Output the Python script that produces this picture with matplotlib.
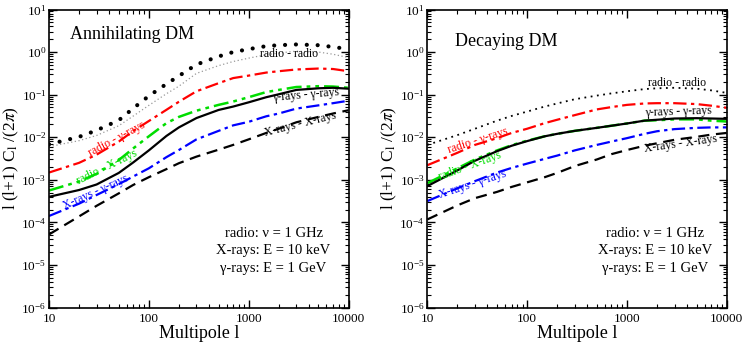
import numpy as np
import matplotlib
matplotlib.use("Agg")
from matplotlib import pyplot as plt
from matplotlib.ticker import LogLocator, NullFormatter, LogFormatterMathtext

plt.rcParams['font.family'] = ['Liberation Serif', 'DejaVu Serif']
plt.rcParams['mathtext.fontset'] = 'stix'

# multipoles
ell = [10, 20, 30, 50, 70, 100, 150, 200, 300, 500, 700, 1000, 1500, 2000, 3000, 5000, 7000, 10000]

# annihilating DM
ann_rr = [6.8e-3, 1.02e-2, 1.45e-2, 2.5e-2, 4.8e-2, 9.3e-2, 0.178, 0.275, 0.51, 0.79, 1.0, 1.17, 1.38, 1.45, 1.51, 1.45, 1.32, 1.17]
ann_rr_grey = [6.0e-3, 8.3e-3, 1.1e-2, 1.86e-2, 3.16e-2, 5.6e-2, 0.105, 0.158, 0.316, 0.48, 0.60, 0.72, 0.87, 0.95, 1.05, 1.0, 0.89, 0.74]
ann_rg = [1.48e-3, 2.5e-3, 3.9e-3, 7.9e-3, 1.41e-2, 2.4e-2, 4.4e-2, 6.8e-2, 0.12, 0.186, 0.245, 0.28, 0.33, 0.355, 0.39, 0.41, 0.40, 0.355]
ann_rx = [5.6e-4, 9.1e-4, 1.38e-3, 2.9e-3, 5.5e-3, 1.05e-2, 2.14e-2, 3.0e-2, 4.2e-2, 5.75e-2, 6.9e-2, 8.7e-2, 0.115, 0.129, 0.151, 0.158, 0.155, 0.145]
ann_gg = [3.98e-4, 5.75e-4, 7.76e-4, 1.45e-3, 2.57e-3, 4.9e-3, 1.07e-2, 1.7e-2, 2.82e-2, 4.37e-2, 5.25e-2, 6.6e-2, 8.7e-2, 0.102, 0.129, 0.141, 0.145, 0.138]
ann_xg = [1.41e-4, 2.75e-4, 4.4e-4, 7.9e-4, 1.2e-3, 1.86e-3, 3.4e-3, 5.0e-3, 8.9e-3, 1.41e-2, 1.9e-2, 2.3e-2, 3.1e-2, 3.6e-2, 4.7e-2, 5.6e-2, 6.3e-2, 7.2e-2]
ann_xx = [5.2e-5, 1.38e-4, 2.45e-4, 4.8e-4, 7.6e-4, 1.15e-3, 1.78e-3, 2.45e-3, 3.5e-3, 5.1e-3, 6.6e-3, 8.9e-3, 1.26e-2, 1.58e-2, 2.24e-2, 3.0e-2, 3.6e-2, 4.3e-2]

# decaying DM
dec_rr = [6.6e-3, 1.12e-2, 1.58e-2, 2.45e-2, 3.16e-2, 4.0e-2, 5.25e-2, 6.2e-2, 7.8e-2, 9.5e-2, 0.107, 0.12, 0.135, 0.141, 0.145, 0.138, 0.126, 0.11]
dec_rg = [2.2e-3, 4.3e-3, 6.6e-3, 9.5e-3, 1.26e-2, 1.58e-2, 2.14e-2, 2.57e-2, 3.3e-2, 4.5e-2, 5.1e-2, 5.75e-2, 6.2e-2, 6.3e-2, 6.3e-2, 6.0e-2, 5.5e-2, 4.9e-2]
dec_rx = [8.3e-4, 1.86e-3, 3.0e-3, 4.9e-3, 6.5e-3, 8.3e-3, 1.05e-2, 1.2e-2, 1.41e-2, 1.66e-2, 1.86e-2, 2.1e-2, 2.45e-2, 2.5e-2, 2.63e-2, 2.63e-2, 2.45e-2, 2.34e-2]
dec_gg = [7.1e-4, 1.66e-3, 2.8e-3, 4.7e-3, 6.3e-3, 8.1e-3, 1.05e-2, 1.2e-2, 1.41e-2, 1.66e-2, 1.86e-2, 2.1e-2, 2.45e-2, 2.57e-2, 2.75e-2, 2.8e-2, 2.75e-2, 2.7e-2]
dec_xg = [3.16e-4, 6.3e-4, 9.3e-4, 1.48e-3, 1.9e-3, 2.4e-3, 3.1e-3, 3.7e-3, 4.9e-3, 6.6e-3, 7.9e-3, 9.5e-3, 1.2e-2, 1.38e-2, 1.55e-2, 1.66e-2, 1.7e-2, 1.7e-2]
dec_xx = [1.17e-4, 2.5e-4, 3.7e-4, 5.2e-4, 6.8e-4, 8.7e-4, 1.15e-3, 1.45e-3, 2.1e-3, 3.0e-3, 4.0e-3, 5.0e-3, 6.3e-3, 7.2e-3, 8.7e-3, 1.02e-2, 1.15e-2, 1.26e-2]

xticks = [10, 100, 1000, 10000]
xticklabels = ['10', '100', '1000', '10000']
info = 'radio: \u03bd = 1 GHz\nX-rays: E = 10 keV\n\u03b3-rays: E = 1 GeV'

RED, GREEN, BLUE = '#ff0000', '#00dd00', '#0000ff'
ls_dashdot = (0, (6, 2, 1.5, 2))
ls_dashdotdot = (0, (6, 2, 1.5, 2, 1.5, 2))
ls_dash = (0, (5, 3))

fig = plt.figure(figsize=(7.44, 3.44), dpi=100)
axL = fig.add_axes([49 / 744, 1 - 307.5 / 344, 299.5 / 744, 298 / 344])
axR = fig.add_axes([427.3 / 744, 1 - 307.5 / 344, 299.4 / 744, 298 / 344])


def style_axes(ax):
    ax.set_xscale('log')
    ax.set_yscale('log')
    ax.set_xlim(10, 10000)
    ax.set_ylim(1e-6, 10)
    ax.set_xticks(xticks)
    ax.set_xticklabels(xticklabels)
    ax.xaxis.set_minor_locator(LogLocator(base=10, subs=np.arange(2, 10), numticks=20))
    ax.xaxis.set_minor_formatter(NullFormatter())
    ax.yaxis.set_major_locator(LogLocator(base=10, numticks=20))
    ax.yaxis.set_major_formatter(LogFormatterMathtext())
    ax.yaxis.set_minor_locator(LogLocator(base=10, subs=np.arange(2, 10), numticks=20))
    ax.yaxis.set_minor_formatter(NullFormatter())
    ax.tick_params(which='both', direction='in', top=True, right=True, labelsize=9.5)
    ax.tick_params(which='major', length=6, width=1)
    ax.tick_params(which='minor', length=3, width=0.8)
    ax.tick_params(axis='x', pad=4)
    ax.tick_params(axis='y', pad=2)
    for s in ax.spines.values():
        s.set_linewidth(1.2)
    ax.set_xlabel('Multipole l', fontsize=13, labelpad=0)
    ax.set_ylabel(r'l (l+1) C$_\mathrm{l}$ /(2$\pi$)', fontsize=12.5, labelpad=0)


# left panel
ax = axL
style_axes(ax)
ax.plot(ell, ann_rr_grey, color='#999999', lw=0.9, linestyle=(0, (1, 2)))
ax.plot(ell, ann_rr, color='black', lw=3, linestyle=(0, (0.01, 2.6)), dash_capstyle='round')
ax.plot(ell, ann_rg, color=RED, lw=1.6, linestyle=ls_dashdot)
ax.plot(ell, ann_rx, color=GREEN, lw=1.8, linestyle=ls_dashdotdot)
ax.plot(ell, ann_gg, color='black', lw=1.6)
ax.plot(ell, ann_xg, color=BLUE, lw=1.6, linestyle=ls_dashdot)
ax.plot(ell, ann_xx, color='black', lw=1.6, linestyle=ls_dash)

ax.text(0.07, 0.915, 'Annihilating DM', transform=ax.transAxes, fontsize=13, va='center', ha='left')
ax.text(0.8, 0.85, 'radio - radio', transform=ax.transAxes, fontsize=8.5, ha='center', va='center')
ax.text(0.858, 0.712, '\u03b3-rays - \u03b3-rays', transform=ax.transAxes, fontsize=8.5, ha='center', va='center', rotation=5)
ax.text(0.838, 0.615, 'X-rays - X-rays', transform=ax.transAxes, fontsize=8.5, ha='center', va='center', rotation=14)
ax.text(0.227, 0.565, 'radio - \u03b3-rays', transform=ax.transAxes, fontsize=8.5, color=RED, ha='center', va='center', rotation=28)
ax.text(0.193, 0.472, 'radio - X-rays', transform=ax.transAxes, fontsize=8.5, color=GREEN, ha='center', va='center', rotation=26)
ax.text(0.157, 0.388, 'X-rays - \u03b3-rays', transform=ax.transAxes, fontsize=8.5, color=BLUE, ha='center', va='center', rotation=24)
ax.text(0.75, 0.19, info, transform=ax.transAxes, fontsize=10.5, ha='center', va='center', linespacing=1.45, multialignment='center')

# right panel
ax = axR
style_axes(ax)
ax.plot(ell, dec_rr, color='black', lw=1.3, linestyle=(0, (1, 2.5)))
ax.plot(ell, dec_rg, color=RED, lw=1.6, linestyle=ls_dashdot)
ax.plot(ell, dec_rx, color=GREEN, lw=1.8, linestyle=ls_dashdotdot)
ax.plot(ell, dec_gg, color='black', lw=1.6)
ax.plot(ell, dec_xg, color=BLUE, lw=1.6, linestyle=ls_dashdot)
ax.plot(ell, dec_xx, color='black', lw=1.6, linestyle=ls_dash)

ax.text(0.093, 0.892, 'Decaying DM', transform=ax.transAxes, fontsize=13, va='center', ha='left')
ax.text(0.834, 0.755, 'radio - radio', transform=ax.transAxes, fontsize=8.5, ha='center', va='center')
ax.text(0.838, 0.655, '\u03b3-rays - \u03b3-rays', transform=ax.transAxes, fontsize=8.5, ha='center', va='center', rotation=2)
ax.text(0.845, 0.55, 'X-rays - X-rays', transform=ax.transAxes, fontsize=8.5, ha='center', va='center', rotation=8)
ax.text(0.169, 0.56, 'radio - \u03b3-rays', transform=ax.transAxes, fontsize=8.5, color=RED, ha='center', va='center', rotation=18)
ax.text(0.143, 0.474, 'radio - X-rays', transform=ax.transAxes, fontsize=8.5, color=GREEN, ha='center', va='center', rotation=20)
ax.text(0.15, 0.412, 'X-rays - \u03b3-rays', transform=ax.transAxes, fontsize=8.5, color=BLUE, ha='center', va='center', rotation=18)
ax.text(0.76, 0.19, info, transform=ax.transAxes, fontsize=10.5, ha='center', va='center', linespacing=1.45, multialignment='center')

fig.savefig('out.png', dpi=100)
